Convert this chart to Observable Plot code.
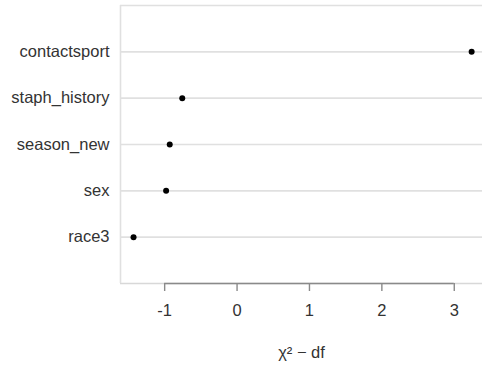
<!DOCTYPE html>
<html>
<head>
<meta charset="utf-8">
<script src="https://cdn.jsdelivr.net/npm/d3@7"></script>
<script src="https://cdn.jsdelivr.net/npm/@observablehq/plot@0.6"></script>
<style>
  html, body { margin: 0; padding: 0; background: white; }
</style>
</head>
<body>
<div id="chart"></div>
<script>
const vars = ["race3", "sex", "season_new", "staph_history", "contactsport"];
const values = [-1.43, -0.98, -0.93, -0.757, 3.24];
const xTicks = [-1, 0, 1, 2, 3];
const xLabel = "χ² − df";

const rows = vars.map((v, i) => ({name: v, pos: i + 1, value: values[i]}));
const xDomain = [-1.61, 3.39];
const yDomain = [0, vars.length + 1];

const chart = Plot.plot({
  width: 482,
  height: 369,
  marginLeft: 120,
  marginRight: 0,
  marginTop: 5,
  marginBottom: 86,
  x: {domain: xDomain},
  y: {domain: yDomain},
  style: {fontFamily: "'Liberation Sans', Arial, sans-serif", fontSize: "16.5px", color: "#333", background: "white", overflow: "visible"},
  marks: [
    Plot.ruleY(rows, {y: "pos", stroke: "#e0e0e0", strokeWidth: 1.6}),
    Plot.ruleY([yDomain[1]], {stroke: "#e0e0e0", strokeWidth: 1.6}),
    Plot.ruleY([yDomain[0]], {stroke: "#d8d8d8", strokeWidth: 1.6}),
    Plot.ruleX([xDomain[0]], {stroke: "#e0e0e0", strokeWidth: 1.6}),
    Plot.ruleY([yDomain[0]], {y: d => d, x1: () => xTicks[0], x2: () => xTicks[xTicks.length - 1], stroke: "#8a8a8a", strokeWidth: 1.6}),
    Plot.axisX({ticks: xTicks, tickFormat: d => String(d), tickSize: 8, tickPadding: 13, stroke: "#8a8a8a", strokeWidth: 1.4, label: xLabel, labelAnchor: "center", labelOffset: 74, labelArrow: "none"}),
    Plot.axisY({ticks: rows.map(d => d.pos), tickFormat: p => vars[p - 1], tickSize: 0, tickPadding: 11, label: null}),
    Plot.dot(rows, {x: "value", y: "pos", r: 3, fill: "black", stroke: null})
  ]
});
document.getElementById("chart").appendChild(chart);
</script>
</body>
</html>
